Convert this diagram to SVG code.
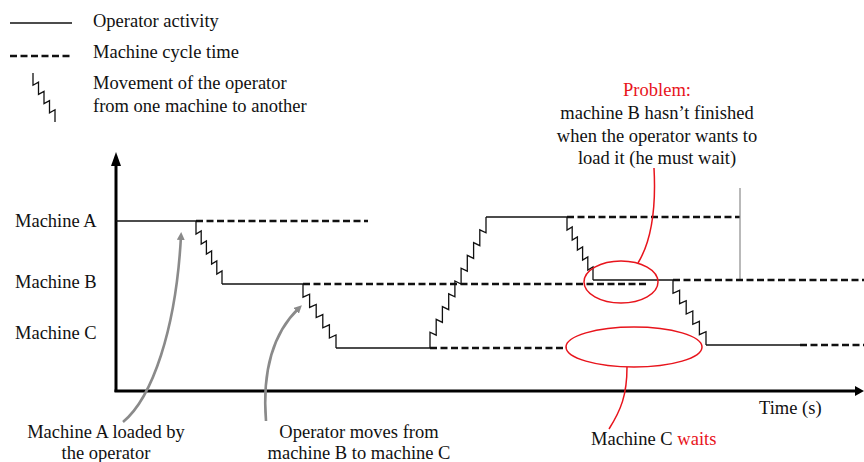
<svg xmlns="http://www.w3.org/2000/svg" width="864" height="462" viewBox="0 0 864 462">
<style>
text{font-family:"Liberation Serif","Times New Roman",serif;font-size:18.5px;fill:#111}
.red{fill:#e8141c}
.solid{fill:none;stroke:#111;stroke-width:1.3}
.dash{fill:none;stroke:#111;stroke-width:2.5;stroke-dasharray:7,3.5}
.zig{fill:none;stroke:#111;stroke-width:1.3;stroke-linejoin:miter}
.axis{fill:none;stroke:#000;stroke-width:3}
.gray{fill:none;stroke:#8a8a8a;stroke-width:2.6}
.redl{fill:none;stroke:#e8141c;stroke-width:1.5}
</style>
<defs>
<marker id="garr" markerWidth="8" markerHeight="8" refX="4" refY="4" orient="auto" markerUnits="userSpaceOnUse" viewBox="0 0 8 8"><path d="M0,0 L8,4 L0,8 z" fill="#8a8a8a"/></marker>
</defs>
<g id="legend">
<line class="solid" x1="10" y1="23" x2="72" y2="23"/>
<text x="93" y="27">Operator activity</text>
<line class="dash" x1="10" y1="56" x2="72" y2="56"/>
<text x="93" y="58">Machine cycle time</text>
<path class="zig" d="M33,73 V85.2 L38.5,82.2 V94.4 L44,91.4 V103.6 L49.5,100.6 V112.8 L55,109.8 V122"/>
<text x="93" y="89">Movement of the operator</text>
<text x="93" y="112">from one machine to another</text>
</g>
<g id="axes">
<line class="axis" x1="116" y1="160" x2="116" y2="392"/>
<path d="M116,152 L121,166 L111,166 z" fill="#000"/>
<line class="axis" x1="114.5" y1="391" x2="858" y2="391"/>
<path d="M864,391 L855,386 L855,396 z" fill="#000"/>
<text x="759" y="414">Time (s)</text>
</g>
<g id="machine-labels">
<text x="15" y="227">Machine A</text>
<text x="15" y="288">Machine B</text>
<text x="15" y="339">Machine C</text>
</g>
<g id="connectors">
<line class="solid" x1="116" y1="221" x2="196" y2="221"/>
<line class="dash" x1="196" y1="221" x2="368" y2="221"/>
<path class="zig" d="M196,221 V234 L201.2,231 V244 L206.4,241 V254 L211.6,251 V264 L216.8,261 V274 L222,271 V284"/>
<line class="solid" x1="222" y1="284" x2="303" y2="284"/>
<line class="dash" x1="303" y1="284" x2="648" y2="284"/>
<path class="zig" d="M303,284 V297.2 L309.6,294.2 V307.4 L316.2,304.4 V317.6 L322.8,314.6 V327.8 L329.4,324.8 V338 L336,335 V348"/>
<line class="solid" x1="336" y1="348" x2="430" y2="348"/>
<line class="dash" x1="430" y1="348" x2="567" y2="348"/>
<path class="zig" d="M430,348 V332.2 L436.2,335.2 V319.4 L442.4,322.4 V306.6 L448.7,309.6 V293.8 L454.9,296.8 V281 L461.1,284 V268.2 L467.3,271.2 V255.4 L473.6,258.4 V242.6 L479.8,245.6 V229.8 L486,232.8 V217"/>
<line class="solid" x1="486" y1="217" x2="567" y2="217"/>
<line class="dash" x1="567" y1="217" x2="740" y2="217"/>
<line x1="740" y1="188" x2="740" y2="280" stroke="#8a8a8a" stroke-width="1.2"/>
<path class="zig" d="M567,217 V230 L572.2,227 V240 L577.4,237 V250 L582.6,247 V260 L587.8,257 V270 L593,267 V280"/>
<line class="solid" x1="593" y1="280" x2="673" y2="280"/>
<line class="dash" x1="673" y1="280" x2="864" y2="280"/>
<path class="zig" d="M673,280 V293.3 L679.6,290.3 V303.7 L686.2,300.7 V314 L692.8,311 V324.3 L699.4,321.3 V334.7 L706,331.7 V345"/>
<line class="solid" x1="706" y1="345" x2="800" y2="345"/>
<line class="dash" x1="800" y1="345" x2="864" y2="345"/>
<path class="gray" d="M123,422 C152,398 176,330 181,236" marker-end="url(#garr)"/>
<path class="gray" d="M266,421 C262,370 274,332 299,308" marker-end="url(#garr)"/>
<ellipse class="redl" cx="621" cy="282" rx="37" ry="21"/>
<ellipse class="redl" cx="634" cy="347" rx="68" ry="20"/>
<path class="redl" d="M654,168 C656,205 652,240 638,263"/>
<path class="redl" d="M627,367 C627,395 621,410 609,429"/>
</g>
<g id="annotations">
<text x="106" y="438" text-anchor="middle">Machine A loaded by</text>
<text x="106" y="459" text-anchor="middle">the operator</text>
<text x="359" y="438" text-anchor="middle">Operator moves from</text>
<text x="359" y="459" text-anchor="middle">machine B to machine C</text>
<text x="657" y="96" text-anchor="middle" class="red">Problem:</text>
<text x="657" y="119" text-anchor="middle">machine B hasn’t finished</text>
<text x="657" y="142" text-anchor="middle">when the operator wants to</text>
<text x="657" y="164" text-anchor="middle">load it (he must wait)</text>
<text x="591" y="445">Machine C <tspan class="red">waits</tspan></text>
</g>
</svg>
